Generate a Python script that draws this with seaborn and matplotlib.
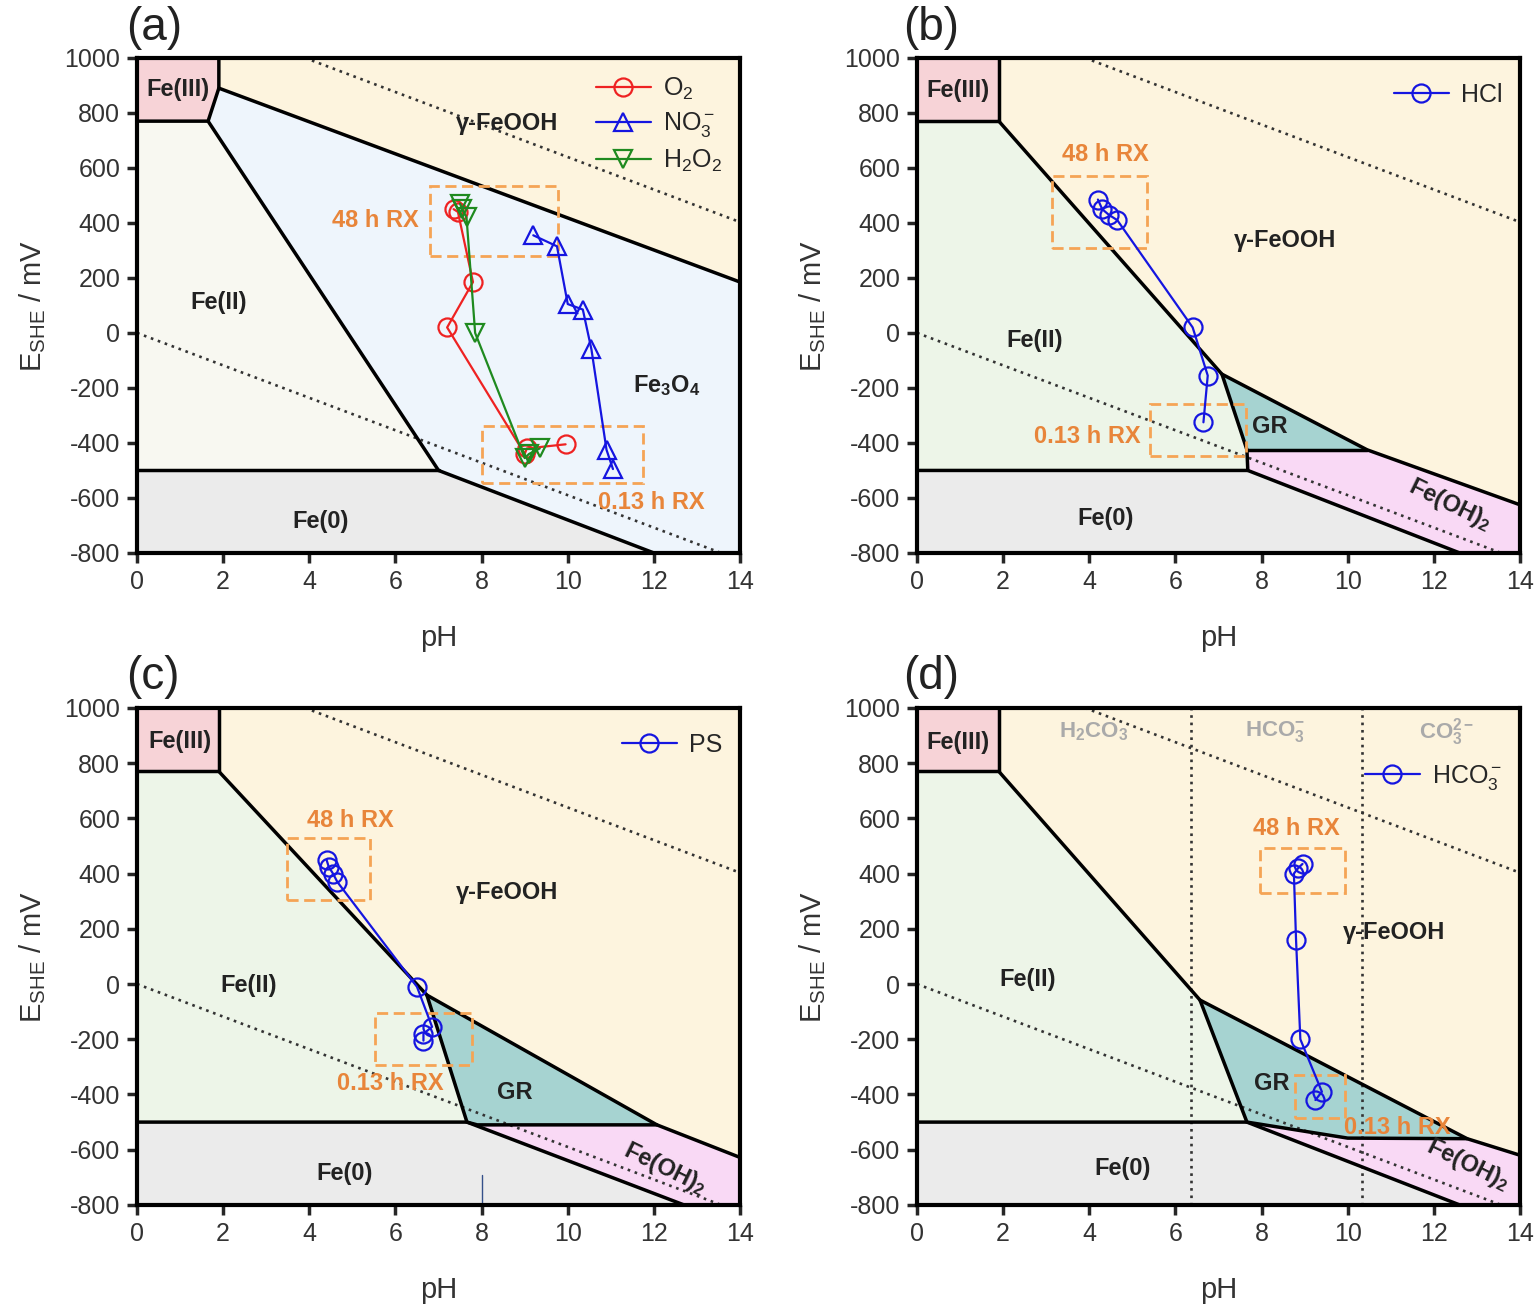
"""
Diagramas Eh-pH del hierro con trayectorias medidas (4 paneles).
"""

import numpy as np
import pandas as pd
import matplotlib
matplotlib.use("Agg")
import matplotlib.pyplot as plt
from matplotlib.patches import Rectangle
import seaborn as sns

# --- datos medidos: pH y E (mV vs SHE), de 0.13 h a 48 h ---
ph_o2 = [9.95, 9.05, 9.0, 7.2, 7.8, 7.45, 7.35]
e_o2 = [-405, -420, -440, 20, 185, 440, 450]
ph_no3 = [11.05, 10.9, 10.55, 10.35, 10.0, 9.75, 9.2]
e_no3 = [-495, -425, -60, 85, 105, 315, 355]
ph_h2o2 = [9.35, 9.1, 9.0, 7.85, 7.65, 7.55, 7.5]
e_h2o2 = [-420, -440, -455, 0, 420, 450, 470]
ph_hcl = [6.65, 6.75, 6.4, 4.65, 4.45, 4.3, 4.2]
e_hcl = [-325, -155, 20, 410, 430, 450, 485]
ph_ps = [6.65, 6.65, 6.85, 6.5, 4.65, 4.55, 4.45, 4.4]
e_ps = [-205, -180, -155, -10, 370, 400, 425, 450]
ph_hco3 = [9.25, 9.4, 8.9, 8.8, 8.75, 8.85, 8.95]
e_hco3 = [-420, -390, -200, 160, 400, 420, 435]

# --- lineas de estabilidad del agua y pKa del carbonato ---
water_upper = [(3.9, 1000), (14, 403)]
water_lower = [(0, 0), (13.56, -800)]
pka_carbonate = [6.35, 10.33]

# --- regiones (vertices pH, E) ---
fe3_box = [(0, 1000), (1.9, 1000), (1.9, 770), (0, 770)]

a_fe3 = [(0, 1000), (1.9, 1000), (1.9, 890), (1.65, 770), (0, 770)]
a_feooh = [(1.9, 1000), (14, 1000), (14, 185), (1.9, 890)]
a_fe3o4 = [(1.9, 890), (14, 185), (14, -800), (12, -800), (7, -500), (1.65, 770)]
a_fe2 = [(0, 770), (1.65, 770), (7, -500), (0, -500)]
a_fe0 = [(0, -500), (7, -500), (12, -800), (0, -800)]
a_lines = [[(0, 770), (1.65, 770), (1.9, 890), (1.9, 1000)],
           [(1.9, 890), (14, 185)],
           [(1.65, 770), (7, -500), (12, -800)],
           [(0, -500), (7, -500)]]

b_feooh = [(1.9, 1000), (14, 1000), (14, -625), (10.45, -425), (7.08, -150), (1.9, 770)]
b_fe2 = [(0, 770), (1.9, 770), (7.08, -150), (7.66, -425), (7.68, -500), (0, -500)]
b_gr = [(7.08, -150), (10.45, -425), (7.66, -425)]
b_feoh2 = [(7.66, -425), (10.45, -425), (14, -625), (14, -800), (12.6, -800), (7.68, -500)]
b_fe0 = [(0, -500), (7.68, -500), (12.6, -800), (0, -800)]
b_lines = [[(0, 770), (1.9, 770), (1.9, 1000)],
           [(1.9, 770), (7.08, -150), (10.45, -425), (14, -625)],
           [(7.08, -150), (7.66, -425), (7.68, -500)],
           [(7.66, -425), (10.45, -425)],
           [(0, -500), (7.68, -500), (12.6, -800)]]

c_feooh = [(1.9, 1000), (14, 1000), (14, -628), (12.07, -510), (6.73, -40), (1.9, 770)]
c_fe2 = [(0, 770), (1.9, 770), (6.73, -40), (7.66, -500), (0, -500)]
c_gr = [(6.73, -40), (12.07, -510), (7.9, -510), (7.66, -500)]
c_feoh2 = [(7.66, -500), (7.9, -510), (12.07, -510), (14, -628), (14, -800), (12.7, -800)]
c_fe0 = [(0, -500), (7.66, -500), (12.7, -800), (0, -800)]
c_lines = [[(0, 770), (1.9, 770), (1.9, 1000)],
           [(1.9, 770), (6.73, -40), (12.07, -510), (14, -628)],
           [(6.73, -40), (7.66, -500), (7.9, -510), (12.07, -510)],
           [(0, -500), (7.66, -500), (12.7, -800)]]

d_feooh = [(1.9, 1000), (14, 1000), (14, -620), (12.77, -560), (6.57, -58), (1.9, 770)]
d_fe2 = [(0, 770), (1.9, 770), (6.57, -58), (7.66, -500), (0, -500)]
d_gr = [(6.57, -58), (12.77, -560), (10.0, -558), (7.66, -500)]
d_feoh2 = [(7.66, -500), (10.0, -558), (12.77, -560), (14, -620), (14, -800), (12.6, -800)]
d_fe0 = [(0, -500), (7.66, -500), (12.6, -800), (0, -800)]
d_lines = [[(0, 770), (1.9, 770), (1.9, 1000)],
           [(1.9, 770), (6.57, -58), (12.77, -560), (14, -620)],
           [(6.57, -58), (7.66, -500), (10.0, -558), (12.77, -560)],
           [(0, -500), (7.66, -500), (12.6, -800)]]

# colores
col_fe3 = "#f7d3d7"
col_feooh = "#fdf4de"
col_fe3o4 = "#eef5fc"
col_fe2_a = "#f8f8f1"
col_fe2 = "#edf5e8"
col_fe0 = "#ebebeb"
col_gr = "#a6d3d1"
col_feoh2 = "#f9d9f5"
orange_txt = "#e8853a"
orange_box = "#f5a455"
txt_col = "#222222"

sns.set_theme(style="ticks")
plt.rcParams["font.family"] = ["Liberation Sans", "DejaVu Sans"]
plt.rcParams["mathtext.fontset"] = "custom"
plt.rcParams["mathtext.rm"] = "Liberation Sans"
plt.rcParams["mathtext.bf"] = "Liberation Sans:bold"
plt.rcParams["mathtext.it"] = "Liberation Sans:italic"
plt.rcParams["mathtext.default"] = "regular"
plt.rcParams["axes.unicode_minus"] = False

fig = plt.figure(figsize=(15.36, 13.1), dpi=100)
ax_a = fig.add_axes([0.0892, 0.5779, 0.3926, 0.3779])
ax_b = fig.add_axes([0.5970, 0.5779, 0.3926, 0.3779])
ax_c = fig.add_axes([0.0892, 0.0802, 0.3926, 0.3794])
ax_d = fig.add_axes([0.5970, 0.0802, 0.3926, 0.3794])

dotted = (0, (1, 1.8))


def poly(ax, verts, color):
    xs, ys = zip(*verts)
    ax.fill(xs, ys, color=color, lw=0, zorder=0)


def base_panel(ax, regions, lines):
    for verts, color in regions:
        poly(ax, verts, color)
    for seg in lines:
        xs, ys = zip(*seg)
        ax.plot(xs, ys, color="black", lw=2.5, zorder=3, solid_joinstyle="miter")
    for seg in (water_upper, water_lower):
        xs, ys = zip(*seg)
        ax.plot(xs, ys, color="#333333", lw=1.9, ls=dotted, zorder=2)
    ax.set_xlim(0, 14)
    ax.set_ylim(-800, 1000)
    ax.set_xticks(np.arange(0, 15, 2))
    ax.set_yticks(np.arange(-800, 1001, 200))
    ax.tick_params(direction="out", length=7, width=2.5, labelsize=18,
                   labelcolor="#333333", pad=5)
    for sp in ax.spines.values():
        sp.set_visible(True)
        sp.set_linewidth(3)
        sp.set_color("black")
    ax.set_xlabel("pH", fontsize=21, color="#333333", labelpad=22)
    ax.set_ylabel(r"E$_{\mathrm{SHE}}$ / mV", fontsize=21, color="#333333", labelpad=12)


def label(ax, x, y, s, **kw):
    kw.setdefault("fontsize", 17)
    kw.setdefault("fontweight", "bold")
    kw.setdefault("color", txt_col)
    ax.text(x, y, s, ha=kw.pop("ha", "center"), va=kw.pop("va", "center"), zorder=6, **kw)


def rx_box(ax, x0, y0, x1, y1):
    ax.add_patch(Rectangle((x0, y0), x1 - x0, y1 - y0, fill=False, ec=orange_box,
                           lw=2, ls=(0, (4, 2)), zorder=4))


def series(ax, ph, e, color, marker, name):
    sns.lineplot(x=ph, y=e, ax=ax, sort=False, estimator=None, color=color,
                 marker=marker, markersize=13, markerfacecolor="none",
                 markeredgecolor=color, markeredgewidth=1.6, lw=1.6,
                 label=name, zorder=5)


# (a)
base_panel(ax_a, [(a_fe3, col_fe3), (a_feooh, col_feooh), (a_fe3o4, col_fe3o4),
                  (a_fe2, col_fe2_a), (a_fe0, col_fe0)], a_lines)
series(ax_a, ph_o2, e_o2, "#ee2222", "o", r"O$_2$")
series(ax_a, ph_no3, e_no3, "#1515e0", "^", r"NO$_3^-$")
series(ax_a, ph_h2o2, e_h2o2, "#1f8a1f", "v", r"H$_2$O$_2$")
rx_box(ax_a, 6.8, 280, 9.78, 535)
rx_box(ax_a, 8.0, -545, 11.75, -338)
label(ax_a, 0.95, 885, "Fe(III)")
label(ax_a, 8.6, 760, "γ-FeOOH")
label(ax_a, 1.9, 109, "Fe(II)")
label(ax_a, 12.3, -190, r"Fe$_\mathbf{3}$O$_\mathbf{4}$")
label(ax_a, 4.25, -684, "Fe(0)")
label(ax_a, 5.53, 407, "48 h RX", color=orange_txt)
label(ax_a, 11.95, -618, "0.13 h RX", color=orange_txt)

# (b)
base_panel(ax_b, [(fe3_box, col_fe3), (b_feooh, col_feooh), (b_fe2, col_fe2),
                  (b_gr, col_gr), (b_feoh2, col_feoh2), (b_fe0, col_fe0)], b_lines)
series(ax_b, ph_hcl, e_hcl, "#1515e0", "o", "HCl")
rx_box(ax_b, 3.13, 309, 5.34, 571)
rx_box(ax_b, 5.41, -447, 7.64, -258)
label(ax_b, 0.95, 880, "Fe(III)")
label(ax_b, 8.54, 335, "γ-FeOOH")
label(ax_b, 2.74, -29, "Fe(II)")
label(ax_b, 8.2, -342, "GR")
label(ax_b, 12.38, -625, r"Fe(OH)$_\mathbf{2}$", rotation=-26)
label(ax_b, 4.37, -673, "Fe(0)")
label(ax_b, 4.37, 647, "48 h RX", color=orange_txt)
label(ax_b, 3.95, -375, "0.13 h RX", color=orange_txt)

# (c)
base_panel(ax_c, [(fe3_box, col_fe3), (c_feooh, col_feooh), (c_fe2, col_fe2),
                  (c_gr, col_gr), (c_feoh2, col_feoh2), (c_fe0, col_fe0)], c_lines)
series(ax_c, ph_ps, e_ps, "#1515e0", "o", "PS")
rx_box(ax_c, 3.48, 304, 5.41, 529)
rx_box(ax_c, 5.53, -293, 7.78, -105)
ax_c.plot([8, 8], [-800, -690], color="#34508a", lw=1, zorder=2)
label(ax_c, 1.0, 877, "Fe(III)")
label(ax_c, 8.6, 333, "γ-FeOOH")
label(ax_c, 2.58, -6, "Fe(II)")
label(ax_c, 8.78, -391, "GR")
label(ax_c, 12.26, -667, r"Fe(OH)$_\mathbf{2}$", rotation=-26)
label(ax_c, 4.83, -685, "Fe(0)")
label(ax_c, 4.95, 594, "48 h RX", color=orange_txt)
label(ax_c, 5.87, -359, "0.13 h RX", color=orange_txt)

# (d)
base_panel(ax_d, [(fe3_box, col_fe3), (d_feooh, col_feooh), (d_fe2, col_fe2),
                  (d_gr, col_gr), (d_feoh2, col_feoh2), (d_fe0, col_fe0)], d_lines)
for pk in pka_carbonate:
    ax_d.axvline(pk, color="#333333", lw=1.9, ls=dotted, zorder=2)
series(ax_d, ph_hco3, e_hco3, "#1515e0", "o", r"HCO$_3^-$")
rx_box(ax_d, 7.96, 330, 9.94, 493)
rx_box(ax_d, 8.78, -486, 9.94, -330)
label(ax_d, 0.95, 873, "Fe(III)")
label(ax_d, 11.07, 185, "γ-FeOOH")
label(ax_d, 2.58, 15, "Fe(II)")
label(ax_d, 8.24, -362, "GR")
label(ax_d, 12.8, -655, r"Fe(OH)$_\mathbf{2}$", rotation=-26)
label(ax_d, 4.78, -667, "Fe(0)")
label(ax_d, 8.8, 565, "48 h RX", color=orange_txt)
label(ax_d, 11.15, -518, "0.13 h RX", color=orange_txt)
label(ax_d, 4.09, 913, r"H$_\mathbf{2}$CO$_\mathbf{3}$", color="#aaaaaa", fontsize=16)
label(ax_d, 8.31, 913, r"HCO$_\mathbf{3}^\mathbf{-}$", color="#aaaaaa", fontsize=16)
label(ax_d, 12.3, 913, r"CO$_\mathbf{3}^\mathbf{2-}$", color="#aaaaaa", fontsize=16)

# leyendas
leg_kw = dict(frameon=False, fontsize=18, handlelength=2.2, handletextpad=0.5,
              labelspacing=0.35, borderaxespad=0.3)
ax_a.legend(loc="upper right", **leg_kw)
ax_b.legend(loc="upper right", bbox_to_anchor=(1.0, 0.985), **leg_kw)
ax_c.legend(loc="upper right", bbox_to_anchor=(1.0, 0.985), **leg_kw)
ax_d.legend(loc="upper right", bbox_to_anchor=(1.0, 0.925), **leg_kw)

# etiquetas de panel
for tag, x, y in [("(a)", 0.082, 0.979), ("(b)", 0.588, 0.979),
                  ("(c)", 0.082, 0.483), ("(d)", 0.588, 0.483)]:
    fig.text(x, y, tag, fontsize=33, va="center", ha="left", color="#222222")

plt.savefig("out.png", dpi=100)
